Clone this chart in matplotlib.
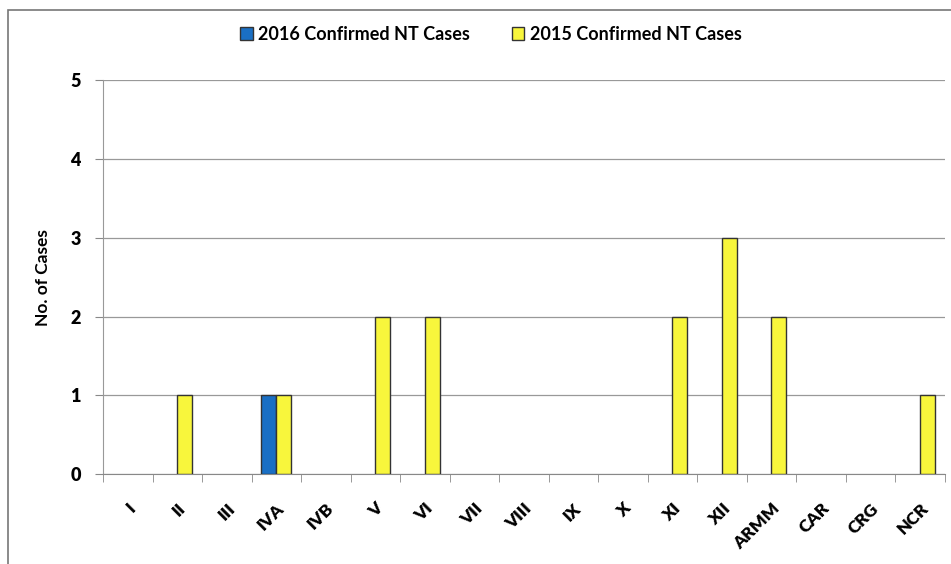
import matplotlib.pyplot as plt
import matplotlib.patches as patches
import numpy as np

regions = ["I", "II", "III", "IVA", "IVB", "V", "VI", "VII", "VIII", "IX",
           "X", "XI", "XII", "ARMM", "CAR", "CRG", "NCR"]
cases_2016 = [0, 0, 0, 1, 0, 0, 0, 0, 0, 0, 0, 0, 0, 0, 0, 0, 0]
cases_2015 = [0, 1, 0, 1, 0, 2, 2, 0, 0, 0, 0, 2, 3, 2, 0, 0, 1]

plt.rcParams['font.family'] = ['Lato', 'DejaVu Sans']
plt.rcParams['font.weight'] = 'bold'

fig = plt.figure(figsize=(9.51, 5.64), dpi=100)
ax = fig.add_axes([0.1083, 0.1596, 0.885, 0.698])

# outer frame of the chart
fig.patches.append(patches.Rectangle((8/951, -0.05), 1.2, 1 - 10/564 + 0.05,
                                     transform=fig.transFigure, fill=False,
                                     edgecolor="#777777", linewidth=1.2))

blue = "#1a6fc4"
yellow = "#f8f63c"
x = np.arange(len(regions))
w = 0.3
b16 = ax.bar(x - w/2, cases_2016, w, color=blue, edgecolor="#333333",
             linewidth=1, zorder=3)
b15 = ax.bar(x + w/2, cases_2015, w, color=yellow, edgecolor="#333333",
             linewidth=1, zorder=3)
# empty bars leave no mark
for bars in (b16, b15):
    for r in bars:
        if r.get_height() == 0:
            r.set_visible(False)

ax.set_xlim(-0.5, len(regions) - 0.5)
ax.set_ylim(0, 5)
ax.set_yticks(range(6))
ax.grid(axis="y", color="#999999", linewidth=0.9, zorder=0)

ax.set_xticks(x)
ax.set_xticklabels(regions, rotation=45, ha="right", rotation_mode="anchor",
                   fontsize=12.5, fontweight="heavy")
ax.tick_params(axis="x", length=0, pad=19)
ax.set_xticks(np.arange(-0.5, len(regions)), minor=True)
ax.tick_params(axis="x", which="minor", length=6, color="#888888")
ax.tick_params(axis="y", length=6, color="#888888", labelsize=13, pad=10)
for lbl in ax.get_yticklabels():
    lbl.set_fontweight("heavy")

for s in ["top", "right"]:
    ax.spines[s].set_visible(False)
ax.spines["left"].set_color("#999999")
ax.spines["bottom"].set_color("#888888")

ax.set_ylabel("No. of Cases", fontsize=12.5, fontweight="bold", labelpad=14)

handles = [patches.Patch(facecolor=blue, edgecolor="#333333", linewidth=1),
           patches.Patch(facecolor=yellow, edgecolor="#333333", linewidth=1)]
ax.legend(handles, ["2016 Confirmed NT Cases", "2015 Confirmed NT Cases"],
          loc="upper center", bbox_to_anchor=(0.461, 1.18), ncol=2,
          frameon=False, fontsize=13, handlelength=0.7, handleheight=0.7,
          columnspacing=2.3, handletextpad=0.3)

plt.savefig("out.png", dpi=100)
